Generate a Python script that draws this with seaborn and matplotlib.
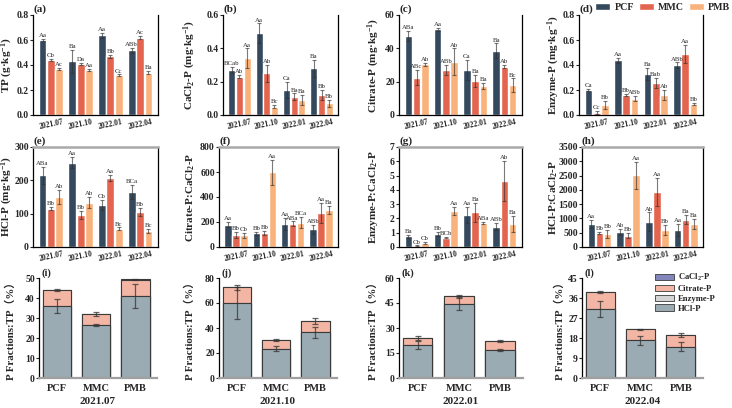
import numpy as np
import pandas as pd
import matplotlib
matplotlib.use("Agg")
import matplotlib.pyplot as plt
import seaborn as sns
from matplotlib.patches import Patch

dates = ["2021.07", "2021.10", "2022.01", "2022.04"]
treatments = ["PCF", "MMC", "PMB"]
trt_colors = ["#34495e", "#e3654f", "#f9b27c"]

# rows = PCF, MMC, PMB ; cols = dates
tp_mean = [[0.60, 0.43, 0.64, 0.52], [0.44, 0.41, 0.47, 0.62], [0.37, 0.36, 0.32, 0.34]]
tp_sd = [[0.01, 0.09, 0.02, 0.02], [0.01, 0.01, 0.01, 0.01], [0.01, 0.01, 0.005, 0.01]]
tp_lab = [["Aa", "Ba", "Aa", "ABb"], ["Cb", "Da", "Bb", "Ac"], ["Ac", "Aa", "Cc", "Ba"]]

cacl_mean = [[0.27, 0.49, 0.15, 0.28], [0.23, 0.25, 0.11, 0.12], [0.34, 0.05, 0.09, 0.07]]
cacl_sd = [[0.02, 0.06, 0.05, 0.05], [0.01, 0.05, 0.02, 0.03], [0.06, 0.01, 0.03, 0.02]]
cacl_lab = [["BCab", "Aa", "Ca", "Ba"], ["Ab", "Ab", "Ba", "Bb"], ["Aa", "Bc", "Ba", "Bb"]]

cit_mean = [[47.5, 51.5, 27.0, 38.5], [22.5, 27.0, 20.5, 29.0], [30.5, 32.0, 17.5, 18.0]]
cit_sd = [[3.0, 1.0, 6.0, 4.5], [4.5, 3.0, 3.5, 1.0], [1.0, 8.0, 2.0, 4.0]]
cit_lab = [["ABa", "Aa", "Ca", "Ba"], ["ABc", "ABb", "Ba", "Ab"], ["Ab", "Ab", "Ba", "Bc"]]

enz_mean = [[0.20, 0.44, 0.33, 0.40], [0.02, 0.16, 0.26, 0.49], [0.08, 0.13, 0.16, 0.09]]
enz_sd = [[0.01, 0.02, 0.05, 0.02], [0.01, 0.01, 0.04, 0.07], [0.03, 0.02, 0.04, 0.01]]
enz_lab = [["Ca", "Aa", "Ba", "ABb"], ["Cc", "Bb", "Bab", "Aa"], ["Bb", "ABb", "Ab", "Bb"]]

hcl_mean = [[215, 253, 126, 165], [115, 97, 207, 106], [150, 133, 55, 48]]
hcl_sd = [[25, 17, 15, 22], [5, 12, 10, 12], [22, 17, 4, 7]]
hcl_lab = [["ABa", "Aa", "Cb", "BCa"], ["Bb", "Bb", "Aa", "Bb"], ["Ab", "Ab", "Bc", "Bc"]]

cit_ca_mean = [[178, 108, 182, 142], [98, 110, 185, 272], [92, 597, 195, 295]]
cit_ca_sd = [[20, 15, 50, 35], [25, 18, 20, 80], [20, 100, 45, 35]]
cit_ca_lab = [["Aa", "Bb", "Aa", "ABb"], ["Bb", "Bb", "ABa", "Aa"], ["Cb", "Aa", "BCa", "Ba"]]

enz_ca_mean = [[0.75, 0.92, 2.25, 1.42], [0.08, 0.65, 2.42, 4.6], [0.28, 2.52, 1.68, 1.62]]
enz_ca_sd = [[0.1, 0.15, 0.55, 0.25], [0.03, 0.05, 0.65, 1.4], [0.1, 0.3, 0.1, 0.55]]
enz_ca_lab = [["Ba", "Bb", "Aa", "ABb"], ["Cb", "BCb", "Ba", "Ab"], ["Cb", "Aa", "ABa", "Ba"]]

hcl_ca_mean = [[810, 530, 880, 600], [500, 400, 1930, 960], [460, 2510, 600, 800]]
hcl_ca_sd = [[130, 100, 330, 200], [30, 100, 500, 170], [150, 480, 170, 170]]
hcl_ca_lab = [["Aa", "Ab", "Ab", "Aa"], ["Bb", "Bb", "Aa", "Ba"], ["Bb", "Aa", "Bb", "Ba"]]

# P fractions : TP (%) per sampling date, order PCF, MMC, PMB
frac_hcl = [[36.0, 26.5, 41.0], [60.0, 23.5, 36.5], [19.8, 44.3, 16.8], [31.0, 17.0, 14.0]]
frac_hcl_sd = [[3.5, 0.7, 6.0], [13.0, 2.0, 4.5], [2.2, 3.5, 0.7], [3.7, 2.0, 2.0]]
frac_enz = [[0.03, 0.01, 0.02], [0.10, 0.04, 0.04], [0.05, 0.06, 0.05], [0.08, 0.08, 0.03]]
frac_cit = [[8.0, 5.5, 8.2], [12.4, 6.5, 8.9], [4.1, 4.6, 5.3], [7.6, 4.8, 5.3]]
frac_cit_sd = [[0.3, 0.8, 0.2], [2.0, 0.8, 2.5], [1.0, 0.6, 0.4], [0.6, 0.3, 1.0]]
frac_ca = [[0.05, 0.05, 0.09], [0.11, 0.06, 0.01], [0.02, 0.02, 0.03], [0.05, 0.02, 0.02]]

frac_colors = {"HCl-P": "#9aabb3", "Enzyme-P": "#d4d4d4", "Citrate-P": "#f4b6a4", "CaCl$_2$-P": "#8286bb"}

sns.set_style("ticks")
plt.rcParams["font.family"] = ["Liberation Serif", "Noto Sans CJK SC"]
plt.rcParams["font.weight"] = "bold"
plt.rcParams["axes.labelweight"] = "bold"
plt.rcParams["mathtext.fontset"] = "custom"
plt.rcParams["mathtext.rm"] = "Liberation Serif:bold"
plt.rcParams["mathtext.it"] = "Liberation Serif:bold"
plt.rcParams["mathtext.default"] = "rm"

W, H = 732, 408
fig = plt.figure(figsize=(W / 100, H / 100), dpi=100)


def add_ax(x0, x1, y0, y1):
    return fig.add_axes([x0 / W, 1 - y1 / H, (x1 - x0) / W, (y1 - y0) / H])


def place_ylabel(ax, box, label_px):
    # label_px = right edge of the rotated y label, in figure pixels
    x0, x1 = box[0], box[1]
    ax.yaxis.set_label_coords((label_px - x0) / (x1 - x0), 0.5)


def group_panel(ax, mean, sd, lab, ylabel, ymax, ticks, tag, top_gray):
    rows = []
    for i, t in enumerate(treatments):
        for j, d in enumerate(dates):
            rows.append({"date": d, "trt": t, "value": mean[i][j]})
    df = pd.DataFrame(rows)
    sns.barplot(data=df, x="date", y="value", hue="trt", hue_order=treatments,
                palette=trt_colors, errorbar=None, width=0.84, gap=0.07,
                legend=False, ax=ax, saturation=1)
    bar_groups = list(ax.containers)
    off = ymax * 0.008
    for i, cont in enumerate(bar_groups):
        for j, bar in enumerate(cont):
            x = bar.get_x() + bar.get_width() / 2
            m, s = mean[i][j], sd[i][j]
            ax.errorbar(x, m, yerr=s, color="#333333", alpha=0.65, capsize=1.6,
                        elinewidth=0.8, capthick=0.8)
            ax.text(x, m + s + off, lab[i][j], ha="center", va="bottom",
                    fontsize=4.9, fontweight="normal")
    ax.set_ylim(0, ymax)
    ax.set_yticks(ticks)
    ax.set_xlabel("")
    ax.set_ylabel(ylabel, fontsize=8)
    ax.tick_params(axis="y", labelsize=7, length=2, width=0.8, pad=1)
    ax.tick_params(axis="x", labelsize=5.5, length=0, pad=2)
    for lbl in ax.get_xticklabels():
        lbl.set_rotation(12)
    for sp in ["left", "right", "bottom"]:
        ax.spines[sp].set_linewidth(0.9)
        ax.spines[sp].set_color("black")
    if top_gray:
        ax.spines["top"].set_color("#a9a9a9")
        ax.spines["top"].set_linewidth(1.8)
    else:
        ax.spines["top"].set_visible(False)
    ax.text(0.0, 1.015, tag, transform=ax.transAxes, fontsize=8, fontweight="bold",
            ha="left", va="bottom")


panels = [
    ((33, 158, 15, 115), 15, tp_mean, tp_sd, tp_lab, "TP (g·kg$^{-1}$)", 0.8, [0, 0.2, 0.4, 0.6, 0.8], "(a)", False),
    ((223, 338, 15, 115), 198, cacl_mean, cacl_sd, cacl_lab, "CaCl$_2$-P (mg·kg$^{-1}$)", 0.6, [0, 0.2, 0.4, 0.6], "(b)", False),
    ((399, 522, 15, 115), 382, cit_mean, cit_sd, cit_lab, "Citrate-P (mg·kg$^{-1}$)", 60, [0, 20, 40, 60], "(c)", False),
    ((579, 703, 15, 115), 562, enz_mean, enz_sd, enz_lab, "Enzyme-P (mg·kg$^{-1}$)", 0.8, [0, 0.2, 0.4, 0.6, 0.8], "(d)", False),
    ((33, 158, 147, 247), 15, hcl_mean, hcl_sd, hcl_lab, "HCl-P (mg·kg$^{-1}$)", 300, [0, 100, 200, 300], "(e)", True),
    ((219, 338, 147, 247), 197, cit_ca_mean, cit_ca_sd, cit_ca_lab, "Citrate-P:CaCl$_2$-P", 800, [0, 200, 400, 600, 800], "(f)", True),
    ((399, 522, 147, 247), 380, enz_ca_mean, enz_ca_sd, enz_ca_lab, "Enzyme-P:CaCl$_2$-P", 7, list(range(8)), "(g)", True),
    ((582, 703, 147, 247), 560, hcl_ca_mean, hcl_ca_sd, hcl_ca_lab, "HCl-P:CaCl$_2$-P", 3500, list(range(0, 3501, 500)), "(h)", True),
]
for box, lx, m, s, l, yl, ymax, ticks, tag, tg in panels:
    ax = add_ax(*box)
    group_panel(ax, m, s, l, yl, ymax, ticks, tag, tg)
    place_ylabel(ax, box, lx)

fig.legend(handles=[Patch(facecolor=c, label=t) for c, t in zip(trt_colors, treatments)],
           loc="center right", bbox_to_anchor=(732 / W, 1 - 7.5 / H), ncol=3, frameon=False,
           prop={"family": "Liberation Serif", "weight": "bold", "size": 7.2},
           handlelength=1.5, handleheight=0.75, columnspacing=0.5, handletextpad=0.4,
           borderpad=0.1, borderaxespad=0.1)

# stacked fraction panels
frac_boxes = [(39, 157, 278, 378), (219, 337, 278, 378), (399, 523, 278, 378), (582, 703, 278, 378)]
frac_label_px = [16, 195, 378, 565]
frac_ylim = [(50, [0, 10, 20, 30, 40, 50]), (80, [0, 20, 40, 60, 80]),
             (60, [0, 15, 30, 45, 60]), (45, [0, 9, 18, 27, 36, 45])]
frac_tags = ["(i)", "(j)", "(k)", "(l)"]
for k in range(4):
    ax = add_ax(*frac_boxes[k])
    hcl = np.array(frac_hcl[k])
    c2 = hcl + np.array(frac_enz[k])
    c3 = c2 + np.array(frac_cit[k])
    c4 = c3 + np.array(frac_ca[k])
    layers = [(c4, "CaCl$_2$-P"), (c3, "Citrate-P"), (c2, "Enzyme-P"), (hcl, "HCl-P")]
    for vals, name in layers:
        sns.barplot(x=treatments, y=vals, color=frac_colors[name], saturation=1,
                    width=0.72, edgecolor="#3a3a3a", linewidth=0.8, errorbar=None, ax=ax)
    xs = np.arange(3)
    ax.errorbar(xs, hcl, yerr=frac_hcl_sd[k], fmt="none", ecolor="#333333", alpha=0.75,
                capsize=2, elinewidth=0.9, capthick=0.9)
    ax.errorbar(xs, c3, yerr=frac_cit_sd[k], fmt="none", ecolor="#333333", alpha=0.75,
                capsize=2, elinewidth=0.9, capthick=0.9)
    ymax, ticks = frac_ylim[k]
    ax.set_ylim(0, ymax)
    ax.set_yticks(ticks)
    ax.set_xlim(-0.45, 2.55)
    ax.spines["top"].set_visible(False)
    ax.spines["right"].set_visible(False)
    ax.spines["left"].set_color("black")
    ax.spines["left"].set_linewidth(0.9)
    ax.spines["bottom"].set_color("#a0a0a0")
    ax.spines["bottom"].set_linewidth(1.6)
    ax.tick_params(axis="y", labelsize=7, length=2, width=0.8, pad=1)
    ax.tick_params(axis="x", labelsize=7.5, length=0, pad=4)
    ax.set_xlabel(dates[k], fontsize=8, fontweight="bold", labelpad=3)
    ax.set_ylabel("P Fractions:TP（%）", fontsize=7.8, fontweight="bold",
                  family=["Liberation Serif", "Noto Sans CJK SC"])
    place_ylabel(ax, frac_boxes[k], frac_label_px[k])
    ax.text(0.02, 1.0, frac_tags[k], transform=ax.transAxes, fontsize=7.5,
            fontweight="bold", ha="left", va="bottom")

handles = [Patch(facecolor=frac_colors[n], edgecolor="#3a3a3a", linewidth=0.6, label=n)
           for n in ["CaCl$_2$-P", "Citrate-P", "Enzyme-P", "HCl-P"]]
ax.legend(handles=handles, loc="upper right", bbox_to_anchor=(1.17, 1.14), frameon=False,
          prop={"family": "Liberation Serif", "weight": "bold", "size": 6.2},
          handlelength=2.2, handleheight=0.75, labelspacing=0.2, handletextpad=0.5)

fig.savefig("out.png", dpi=100)
